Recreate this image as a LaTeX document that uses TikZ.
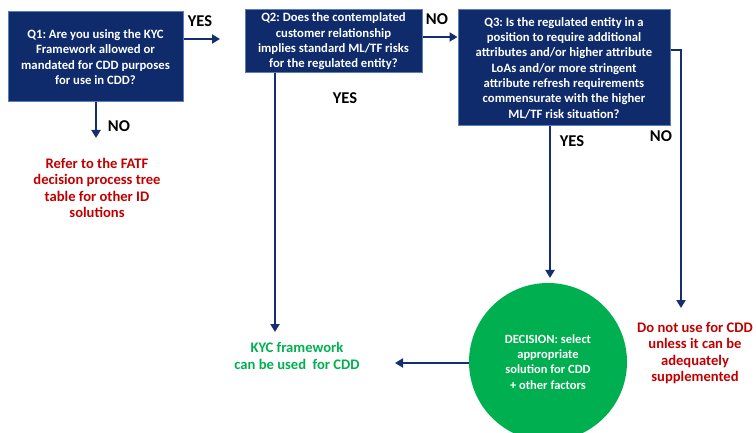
\documentclass[tikz,border=0pt]{standalone}
\usepackage{fontspec}
\setmainfont{Carlito}
\frenchspacing
\usetikzlibrary{arrows.meta}
\definecolor{navy}{HTML}{0F2B6B}
\definecolor{edgeblue}{HTML}{5B7FB5}
\definecolor{linkblue}{HTML}{142F70}
\definecolor{warnred}{HTML}{C00000}
\definecolor{okgreen}{HTML}{00B050}
\tikzset{
  question/.style={rectangle, fill=navy, draw=edgeblue, line width=1pt,
    text=white, align=center, inner sep=0pt,
    font=\bfseries\fontsize{12.7}{15.3}\selectfont},
  decision/.style={circle, fill=okgreen, draw=none, text=white, align=center,
    inner sep=0pt, font=\bfseries\fontsize{12.5}{15.3}\selectfont},
  outcome/.style={align=center, inner sep=0pt,
    font=\bfseries\fontsize{14.6}{16.6}\selectfont},
  answer/.style={inner sep=0pt, font=\bfseries\fontsize{16.5}{18}\selectfont},
  arr/.style={draw=linkblue, line width=2.3pt,
    -{Triangle[width=9pt,length=8pt]}},
}
\begin{document}
\begin{tikzpicture}[x=1pt,y=-1pt]
\useasboundingbox (0,0) rectangle (756,433);
\clip (0,0) rectangle (756,433);

% question boxes
\node[question, minimum width=175pt, minimum height=90pt] (q1) at (95.5,57)
  {Q1: Are you using the KYC\\Framework allowed or\\mandated for CDD purposes\\for use in CDD?};
\node[question, minimum width=177pt, minimum height=63pt] (q2) at (333.5,41.5)
  {Q2: Does the contemplated\\customer relationship\\implies standard ML/TF risks\\for the regulated entity?};
\node[question, minimum width=212pt, minimum height=116pt] (q3) at (564,68)
  {Q3: Is the regulated entity in a\\position to require additional\\attributes and/or higher attribute\\LoAs and/or more stringent\\attribute refresh requirements\\commensurate with the higher\\ML/TF risk situation?};

% decision circle
\node[decision, minimum size=158pt] (dec) at (548,362)
  {DECISION: select\\appropriate\\solution for CDD\\+ other factors};

% outcomes
\node[outcome, text=warnred] (fatf) at (97,188)
  {Refer to the FATF\\decision process tree\\table for other ID\\solutions};
\node[outcome, text=okgreen] (kyc) at (297,356)
  {KYC framework\\can be used\ \ for CDD};
\node[outcome, text=warnred] (notuse) at (695,353)
  {Do not use for CDD\\unless it can be\\adequately\\supplemented};

% answer labels
\node[answer] (yes1) at (200,21) {YES};
\node[answer] (no1) at (119,126) {NO};
\node[answer] (no2) at (437,19) {NO};
\node[answer] (yes2) at (345,98) {YES};
\node[answer] (yes3) at (572,141) {YES};
\node[answer] (no3) at (661,136) {NO};

% connector end points
\coordinate (q1yes) at (220,39);
\coordinate (q1no) at (96,138);
\coordinate (q2no) at (422,37);
\coordinate (q2yes) at (275,332);
\coordinate (q3yes) at (550,278);
\coordinate (q3noturn) at (681,50);
\coordinate (q3no) at (681,308);
\coordinate (kycin) at (395,363);

% connectors
\draw[arr] (q1.east |- q1yes) -- (q1yes);
\draw[arr] (q1.south -| q1no) -- (q1no);
\draw[arr] (q2.east |- q2no) -- (q3.west |- q2no);
\draw[arr] (q2.south -| q2yes) -- (q2yes);
\draw[arr] (q3.south -| q3yes) -- (q3yes);
\draw[arr] (q3.east |- q3noturn) -- (q3noturn) -- (q3no);
\draw[arr] (dec.west |- kycin) -- (kycin);
\end{tikzpicture}
\end{document}
